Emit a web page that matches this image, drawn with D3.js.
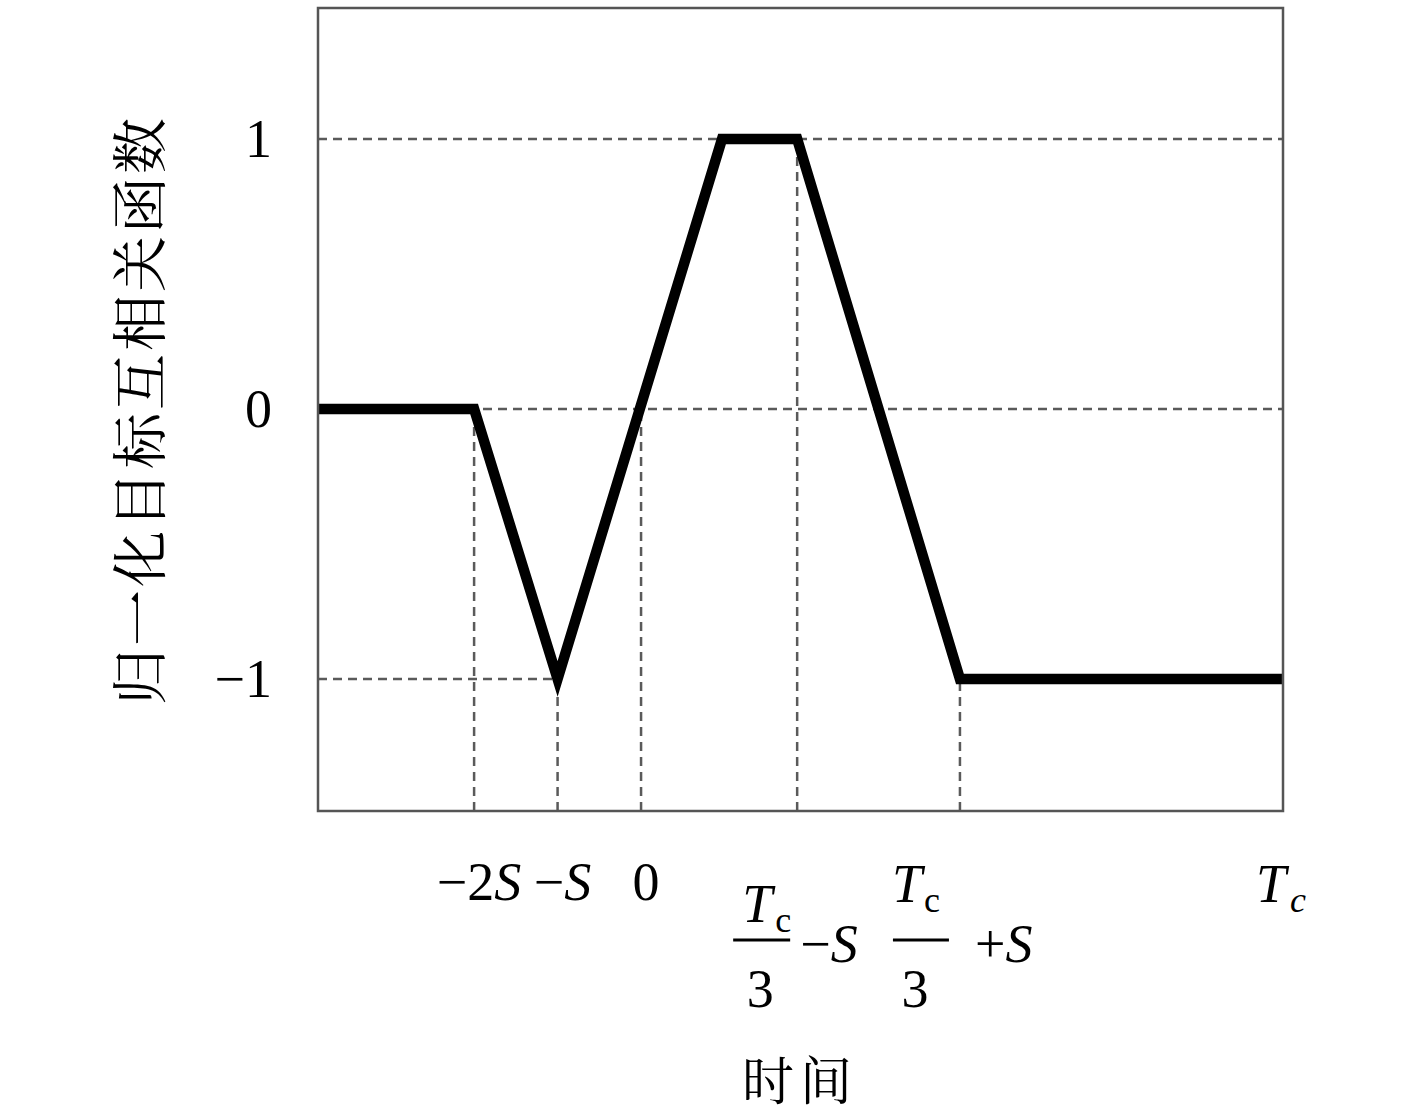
<!DOCTYPE html>
<html>
<head>
<meta charset="utf-8">
<script src="https://cdn.jsdelivr.net/npm/d3@7/dist/d3.min.js"></script>
<style>
  html, body { margin: 0; padding: 0; background: #fff; }
  svg { display: block; }
</style>
</head>
<body>
<svg id="chart" width="1417" height="1116"></svg>
<script>
// ---- data ----
const curveX = [-3.87, -2, -1, 0.97, 1.87, 3.82, 7.69];
const curveY = [0, 0, -1, 1, 1, -1, -1];
const yTicks = [-1, 0, 1];
const yTickLabels = ["\u22121", "0", "1"];
// vertical guide lines: x value and the y value where they stop
const guideX = [-2, -1, 0, 1.87, 3.82];
const guideXTop = [0, -1, 0, 1, -1];
// horizontal guide lines: y value and x extent
const guideY = [1, 0, -1];
const guideYEnd = [7.69, 7.69, -1];
const xTickValues = [-2, -1, 0, 1.87, 3.82, 7.69];
const xTickKinds = ["simple", "simple", "simple", "fracMinus", "fracPlus", "tc"];
const xTickLabels = [["\u22122", "S"], ["\u2212", "S"], ["0", ""], ["T", "c", "3", "\u2212", "S"], ["T", "c", "3", "+", "S"], ["T", "c"]];
const xTitle = "时间";
const yTitle = "归一化目标互相关函数";

// ---- layout ----
const plotLeft = 318, plotRight = 1283, plotTop = 8, plotBottom = 811;
const x = d3.scaleLinear().domain([-3.87, 7.69]).range([plotLeft, plotRight]);
const y = d3.scaleLinear().domain([-1.489, 1.485]).range([plotBottom, plotTop]);

const svg = d3.select("#chart");
const serif = "'Liberation Serif', 'DejaVu Serif', serif";
const cjk = "'Noto Serif CJK SC', 'Noto Sans CJK SC', sans-serif";
const gridColor = "#5a5a5a";

// horizontal dashed guides
svg.append("g").selectAll("line").data(guideY).join("line")
  .attr("x1", x(-3.87)).attr("x2", (d, i) => x(guideYEnd[i]))
  .attr("y1", d => y(d)).attr("y2", d => y(d))
  .attr("stroke", gridColor).attr("stroke-width", 2.5)
  .attr("stroke-dasharray", "9,6");

// vertical dashed guides
svg.append("g").selectAll("line").data(guideX).join("line")
  .attr("x1", d => x(d)).attr("x2", d => x(d))
  .attr("y1", y.range()[0]).attr("y2", (d, i) => y(guideXTop[i]))
  .attr("stroke", gridColor).attr("stroke-width", 2.5)
  .attr("stroke-dasharray", "9,6");

// curve
const pts = curveX.map((v, i) => [v, curveY[i]]);
svg.append("path")
  .attr("d", d3.line().x(d => x(d[0])).y(d => y(d[1]))(pts))
  .attr("fill", "none").attr("stroke", "#000")
  .attr("stroke-width", 10.5).attr("stroke-linejoin", "miter");

// frame
svg.append("rect")
  .attr("x", plotLeft).attr("y", plotTop)
  .attr("width", plotRight - plotLeft).attr("height", plotBottom - plotTop)
  .attr("fill", "none").attr("stroke", "#555").attr("stroke-width", 2.5);

// y tick labels
svg.append("g").selectAll("text").data(yTicks).join("text")
  .attr("x", 272).attr("y", d => y(d) + 18)
  .attr("text-anchor", "end")
  .attr("font-family", serif).attr("font-size", 54)
  .text((d, i) => yTickLabels[i]);

// x tick labels
const fs = 54, sub = 36;
xTickValues.forEach((v, i) => {
  const g = svg.append("g").attr("transform", `translate(${x(v)},0)`);
  const kind = xTickKinds[i];
  const lab = xTickLabels[i];
  if (kind === "simple") {
    const t = g.append("text").attr("x", 5).attr("y", 900)
      .attr("text-anchor", "middle").attr("font-family", serif).attr("font-size", fs);
    t.append("tspan").text(lab[0]);
    if (lab[1]) t.append("tspan").attr("font-style", "italic").text(lab[1]);
  } else if (kind === "fracMinus" || kind === "fracPlus") {
    const o = kind === "fracMinus"
      ? { tx: -55, ty: 922, cx: -22, cy: 932, b1: -64, b2: -7, n: -37, sx: 3 }
      : { tx: -68, ty: 902, cx: -36, cy: 912, b1: -67, b2: -11, n: -45, sx: 15 };
    g.append("text").attr("x", o.tx).attr("y", o.ty)
      .attr("font-family", serif).attr("font-size", fs).attr("font-style", "italic").text(lab[0]);
    g.append("text").attr("x", o.cx).attr("y", o.cy)
      .attr("font-family", serif).attr("font-size", sub).text(lab[1]);
    g.append("line").attr("x1", o.b1).attr("x2", o.b2).attr("y1", 940).attr("y2", 940)
      .attr("stroke", "#000").attr("stroke-width", 3);
    g.append("text").attr("x", o.n).attr("y", 1007).attr("text-anchor", "middle")
      .attr("font-family", serif).attr("font-size", fs).text(lab[2]);
    const t = g.append("text").attr("x", o.sx).attr("y", 962)
      .attr("font-family", serif).attr("font-size", fs);
    t.append("tspan").text(lab[3]);
    t.append("tspan").attr("font-style", "italic").text(lab[4]);
  } else {
    g.append("text").attr("x", -27).attr("y", 902)
      .attr("font-family", serif).attr("font-size", fs).attr("font-style", "italic").text(lab[0]);
    g.append("text").attr("x", 7).attr("y", 912)
      .attr("font-family", serif).attr("font-size", sub).attr("font-style", "italic").text(lab[1]);
  }
});

// axis titles
svg.append("text")
  .attr("x", 800).attr("y", 1100).attr("text-anchor", "middle")
  .attr("font-family", cjk).attr("font-size", 52).attr("letter-spacing", 6)
  .text(xTitle);
svg.append("text")
  .attr("transform", "translate(160,410) rotate(-90)")
  .attr("text-anchor", "middle")
  .attr("font-family", cjk).attr("font-size", 56).attr("letter-spacing", 3)
  .text(yTitle);
</script>
</body>
</html>
